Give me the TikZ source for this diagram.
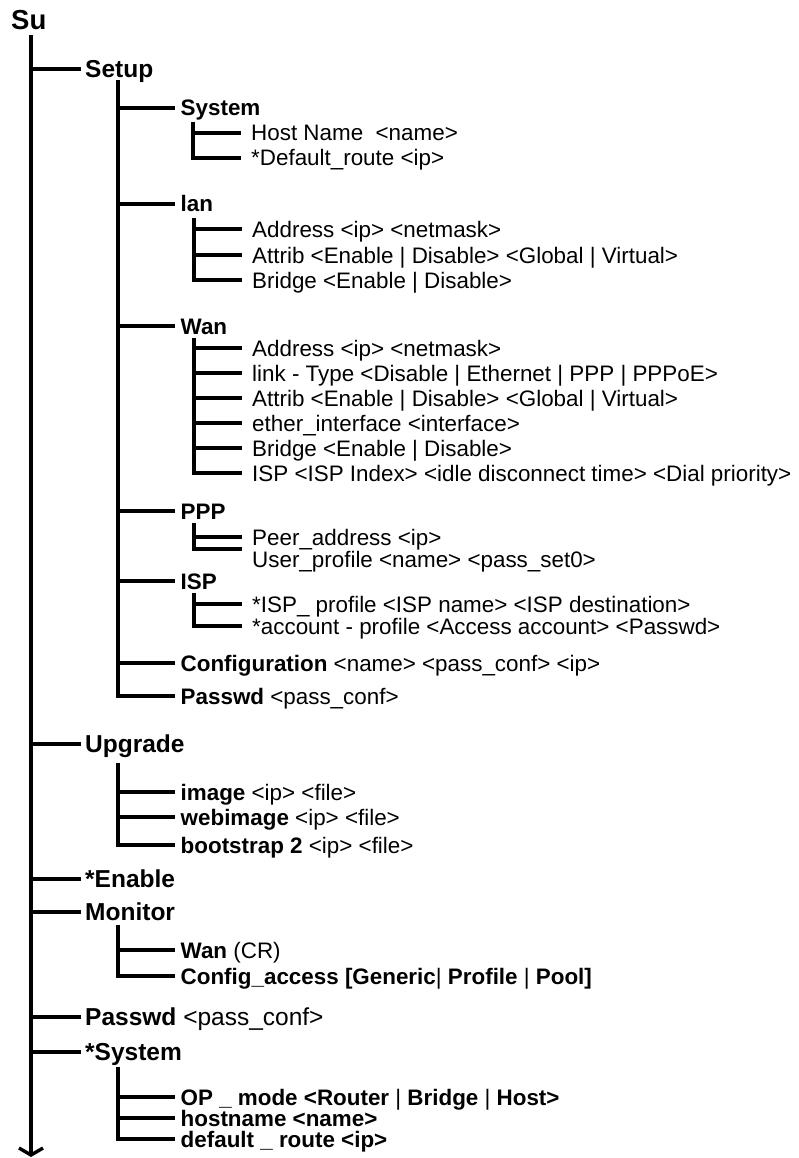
\documentclass[tikz,border=0pt]{standalone}
\usepackage{fontspec}
\setmainfont{Liberation Sans}
\usetikzlibrary{arrows.meta}
\begin{document}
\begin{tikzpicture}[x=1pt,y=-1pt,
  link/.style={line width=3.4pt, line join=miter},
  rootlbl/.style={anchor=west, font=\fontsize{27.5pt}{30pt}\selectfont\bfseries,
    text height=19.7pt, text depth=0pt, inner sep=0pt},
  lone/.style={anchor=west, font=\fontsize{24.5pt}{28pt}\selectfont\bfseries,
    text height=17.5pt, text depth=0pt, inner ysep=0pt, inner xsep=4pt},
  ltwo/.style={anchor=west, font=\fontsize{22.4pt}{26pt}\selectfont,
    text height=16pt, text depth=0pt, inner ysep=0pt, inner xsep=5.5pt},
  lthree/.style={ltwo, inner xsep=10pt}
]
\useasboundingbox (0,0) rectangle (798,1158);
\fill[white] (0,0) rectangle (798,1158);

% root
\node[rootlbl] (su) at (11,20) {Su};
\coordinate (rootT) at (31,35);
\coordinate (rootB) at (31,1157);
\draw[link, -{Straight Barb[length=7pt,width=24pt]}] (rootT) -- (rootB);

% first level
\node[lone] (setup)   at (81,69)   {Setup};
\node[lone] (upgrade) at (81,744)  {Upgrade};
\node[lone] (enable)  at (81,879)  {*Enable};
\node[lone] (monitor) at (81,912)  {Monitor};
\node[lone] (passwd)  at (81,1017) {Passwd {\mdseries <pass\_conf>}};
\node[lone] (xsystem) at (81,1052) {*System};
\foreach \n in {setup,upgrade,enable,monitor,passwd,xsystem}
  \draw[link] (rootT |- \n.west) -- (\n.west);

% Setup
\coordinate (setupT) at (118,80);
\node[ltwo] (ssys)  at (175,108) {\textbf{System}};
\node[ltwo] (slan)  at (175,204) {\textbf{lan}};
\node[ltwo] (swan)  at (175,326) {\textbf{Wan}};
\node[ltwo] (sppp)  at (175,511) {\textbf{PPP}};
\node[ltwo] (sisp)  at (175,581) {\textbf{ISP}};
\node[ltwo] (sconf) at (175,663) {\textbf{Configuration} <name> <pass\_conf> <ip>};
\node[ltwo] (spass) at (175,696) {\textbf{Passwd} <pass\_conf>};
\foreach \n in {ssys,slan,swan,sppp,sisp,sconf}
  \draw[link] (setupT |- \n.west) -- (\n.west);
\draw[link] (setupT) |- (spass.west);

% Setup / System
\coordinate (ssysT) at (193,122);
\node[lthree] (hostn) at (241,133) {Host Name\ \ <name>};
\node[lthree] (defrt) at (241,158) {*Default\_route <ip>};
\draw[link] (ssysT |- hostn.west) -- (hostn.west);
\draw[link] (ssysT) |- (defrt.west);

% Setup / lan
\coordinate (lanT) at (194,218);
\node[lthree] (laddr) at (242,229) {Address <ip> <netmask>};
\node[lthree] (lattr) at (242,255) {Attrib <Enable | Disable> <Global | Virtual>};
\node[lthree] (lbr)   at (242,280) {Bridge <Enable | Disable>};
\foreach \n in {laddr,lattr}
  \draw[link] (lanT |- \n.west) -- (\n.west);
\draw[link] (lanT) |- (lbr.west);

% Setup / Wan
\coordinate (wanT) at (194,338);
\node[lthree] (waddr)  at (242,348) {Address <ip> <netmask>};
\node[lthree] (wlink)  at (242,373) {link - Type <Disable | Ethernet | PPP | PPPoE>};
\node[lthree] (wattr)  at (242,398) {Attrib <Enable | Disable> <Global | Virtual>};
\node[lthree] (wether) at (242,423) {ether\_interface <interface>};
\node[lthree] (wbr)    at (242,448) {Bridge <Enable | Disable>};
\node[lthree] (wisp)   at (242,473) {ISP <ISP Index> <idle disconnect time> <Dial priority>};
\foreach \n in {waddr,wlink,wattr,wether,wbr}
  \draw[link] (wanT |- \n.west) -- (\n.west);
\draw[link] (wanT) |- (wisp.west);

% Setup / PPP
\coordinate (pppT) at (194,523);
\node[lthree] (ppeer) at (242,537) {Peer\_address <ip>};
\node[lthree] (puser) at (242,559) {User\_profile <name> <pass\_set0>};
\draw[link] (pppT |- ppeer.west) -- (ppeer.west);
\draw[link] (pppT) |- ([yshift=10pt]puser.west);

% Setup / ISP
\coordinate (ispT) at (194,593);
\node[lthree] (iprof) at (242,604) {*ISP\_ profile <ISP name> <ISP destination>};
\node[lthree] (iacct) at (242,626) {*account - profile <Access account> <Passwd>};
\draw[link] (ispT |- iprof.west) -- (iprof.west);
\draw[link] (ispT) |- (iacct.west);

% Upgrade
\coordinate (upT) at (118,763);
\node[ltwo] (uimg)  at (175,792) {\textbf{image} <ip> <file>};
\node[ltwo] (uweb)  at (175,817) {\textbf{webimage} <ip> <file>};
\node[ltwo] (uboot) at (175,845) {\textbf{bootstrap 2} <ip> <file>};
\foreach \n in {uimg,uweb}
  \draw[link] (upT |- \n.west) -- (\n.west);
\draw[link] (upT) |- (uboot.west);

% Monitor
\coordinate (monT) at (118,925);
\node[ltwo] (mwan) at (175,950) {\textbf{Wan} (CR)};
\node[ltwo] (mcfg) at (175,976) {\textbf{Config\_access [Generic}| \textbf{Profile} | \textbf{Pool]}};
\draw[link] (monT |- mwan.west) -- (mwan.west);
\draw[link] (monT) |- (mcfg.west);

% *System
\coordinate (sysT) at (118,1067);
\node[ltwo] (sop)   at (175,1097) {\textbf{OP \_ mode <Router} | \textbf{Bridge} | \textbf{Host>}};
\node[ltwo] (shost) at (175,1118) {\textbf{hostname <name>}};
\node[ltwo] (sdef)  at (175,1139) {\textbf{default \_ route <ip>}};
\foreach \n in {sop,shost}
  \draw[link] (sysT |- \n.west) -- (\n.west);
\draw[link] (sysT) |- (sdef.west);
\end{tikzpicture}
\end{document}
